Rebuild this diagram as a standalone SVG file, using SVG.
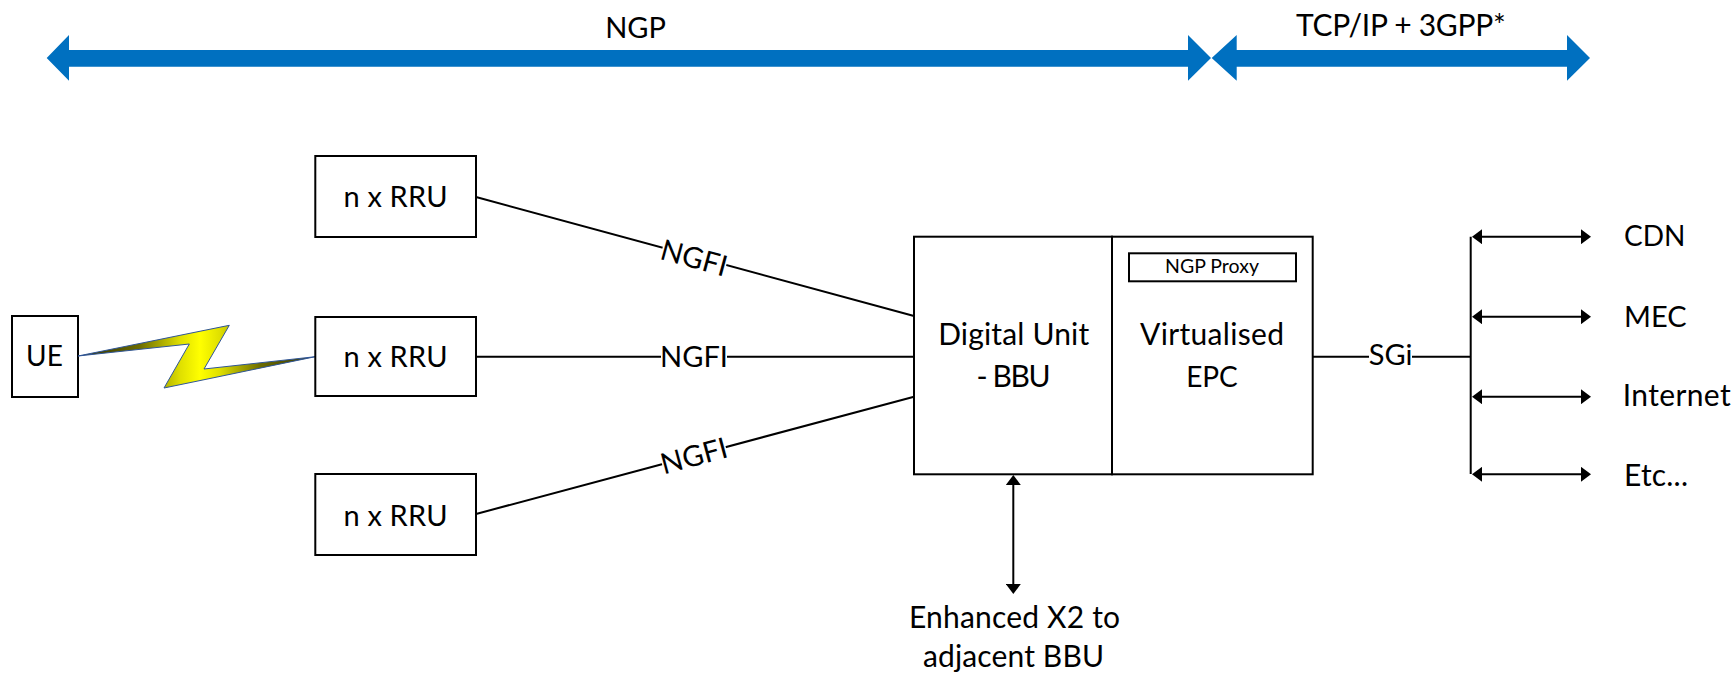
<svg xmlns="http://www.w3.org/2000/svg" width="1736" height="673" viewBox="0 0 1736 673">
<style>
text{font-family:"Lato","Carlito","Liberation Sans",sans-serif;font-size:30px;fill:#000;text-anchor:middle}
.s{text-anchor:start}
.n{font-size:29px}
.t{font-size:28px}
.box{fill:#fff;stroke:#000;stroke-width:2}
.ln{fill:none;stroke:#000;stroke-width:2}
.blue{fill:#0070c0}
.bg{fill:#fff}
</style>
<defs>
<marker id="ah" viewBox="0 0 10 15" refX="0" refY="7.5" markerWidth="10" markerHeight="15" markerUnits="userSpaceOnUse" orient="auto-start-reverse"><path d="M0 0L10 7.5L0 15Z" fill="#000"/></marker>
<linearGradient id="bolt" gradientUnits="userSpaceOnUse" x1="78" y1="0" x2="322" y2="0"><stop offset="0" stop-color="#2a2a00"/><stop offset=".25" stop-color="#6b6b00"/><stop offset=".42" stop-color="#e0e000"/><stop offset=".5" stop-color="#ffff00"/><stop offset=".58" stop-color="#e0e000"/><stop offset=".75" stop-color="#6b6b00"/><stop offset="1" stop-color="#2a2a00"/></linearGradient>
</defs>
<g id="connectors">
<path class="ln" d="M476 197L914 316M476 356.7H914M476 514L914 396.7M1313 356.7H1470.7M1470.7 236.7V474"/>
<path class="ln" d="M1482 236.7H1581" marker-start="url(#ah)" marker-end="url(#ah)"/>
<path class="ln" d="M1482 316.7H1581" marker-start="url(#ah)" marker-end="url(#ah)"/>
<path class="ln" d="M1482 396.7H1581" marker-start="url(#ah)" marker-end="url(#ah)"/>
<path class="ln" d="M1482 474.3H1581" marker-start="url(#ah)" marker-end="url(#ah)"/>
<path class="ln" d="M1013.3 485V584" marker-start="url(#ah)" marker-end="url(#ah)"/>
</g>
<g id="arrow-ngp"><path class="blue" d="M46.7 58L69 35V50H1188V35L1211 58L1188 80.7V66.7H69V80.7Z"/><text class="n" x="635.5" y="38">NGP</text></g>
<g id="arrow-tcp"><path class="blue" d="M1211.7 58L1236.7 35V50H1567V35L1590 58L1567 80.7V66.7H1236.7V80.7Z"/><text x="1400.8" y="36" textLength="209.7">TCP/IP + 3GPP*</text></g>
<g id="ue"><rect class="box" x="12" y="316" width="66" height="81"/><text class="t" x="44.5" y="366">UE</text></g>
<g id="bolt-link"><path d="M78 356L229.3 325.3L204 369L315.3 356.7L164 388L189.3 344Z" fill="url(#bolt)" stroke="#2f5597" stroke-width="1"/></g>
<g id="rru1"><rect class="box" x="315.3" y="156" width="160.7" height="81"/><text class="n" x="395.5" y="207" textLength="104">n x RRU</text></g>
<g id="rru2"><rect class="box" x="315.3" y="317" width="160.7" height="79"/><text class="n" x="395.5" y="367" textLength="104">n x RRU</text></g>
<g id="rru3"><rect class="box" x="315.3" y="474" width="160.7" height="81"/><text class="n" x="395.5" y="526" textLength="104">n x RRU</text></g>
<g id="du"><rect class="box" x="914" y="236.7" width="198" height="237.6"/><text x="1013.7" y="345" textLength="151">Digital Unit</text><text x="1013.5" y="386.7" textLength="74">- BBU</text></g>
<g id="epc"><rect class="box" x="1112" y="236.7" width="200.7" height="237.6"/><text x="1212" y="345" textLength="144">Virtualised</text><text class="t" x="1212" y="386.7">EPC</text></g>
<g id="proxy"><rect class="box" x="1129" y="253.3" width="167" height="28"/><text x="1212" y="273.3" style="font-size:19.5px">NGP Proxy</text></g>
<g id="label-ngfi1" transform="translate(694 258) rotate(15.2)"><rect class="bg" x="-33" y="-14" width="66" height="28"/><text class="n" y="10">NGFI</text></g>
<g id="label-ngfi2" transform="translate(694 356.7)"><rect class="bg" x="-33" y="-14" width="66" height="28"/><text class="n" y="10">NGFI</text></g>
<g id="label-ngfi3" transform="translate(694 456) rotate(-15)"><rect class="bg" x="-33" y="-14" width="66" height="28"/><text class="n" y="10">NGFI</text></g>
<g id="label-sgi"><rect class="bg" x="1369" y="343" width="43" height="28"/><text class="n" x="1390.7" y="365">SGi</text></g>
<g id="cdn"><text class="s t" x="1624" y="246">CDN</text></g>
<g id="mec"><text class="s n" x="1624" y="326.7">MEC</text></g>
<g id="internet"><text class="s" x="1622.7" y="405.7" textLength="108">Internet</text></g>
<g id="etc"><text class="s" x="1624" y="485.7" textLength="64">Etc...</text></g>
<g id="x2"><text x="1014.5" y="627.7" textLength="211">Enhanced X2 to</text><text x="1013.5" y="666.7" textLength="181">adjacent BBU</text></g>
</svg>
